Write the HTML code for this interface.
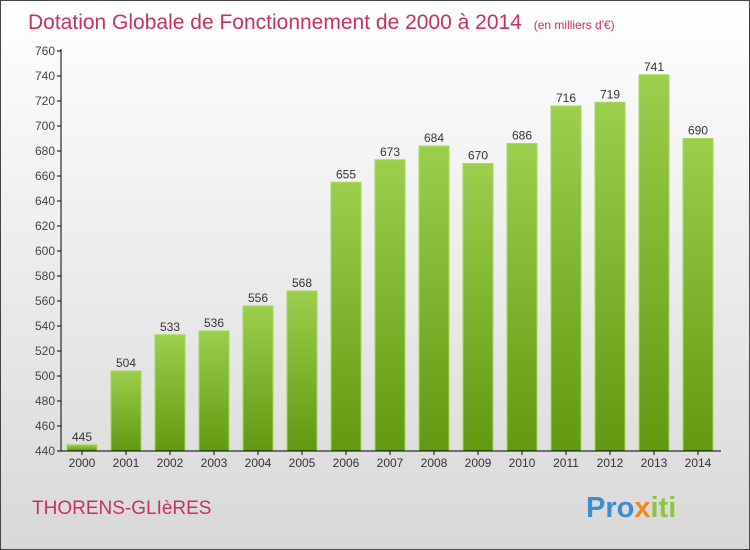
<!DOCTYPE html>
<html><head><meta charset="utf-8"><style>
body{margin:0}
#c{position:relative;width:748px;height:548px;border:1px solid #444;background:linear-gradient(#ffffff,#d8d8d8);font-family:"Liberation Sans",sans-serif;overflow:hidden}
</style></head><body>
<div id="c">
<svg id="s" width="748" height="548" style="position:absolute;left:0;top:0">
<defs><linearGradient id="g" x1="0" y1="0" x2="0" y2="1"><stop offset="0" stop-color="#9ccf4c"/><stop offset="1" stop-color="#62990f"/></linearGradient></defs>
<text x="27" y="28" font-size="21" fill="#c8305e">Dotation Globale de Fonctionnement de 2000 à 2014 <tspan font-size="12" dx="6">(en milliers d'€)</tspan></text>
<text x="31" y="513" font-size="19" fill="#c8305e">THORENS-GLIèRES</text>
<text x="585" y="516" font-size="29" font-weight="bold" fill="#3a8fd0">Pro<tspan fill="#f08a1c">x</tspan><tspan fill="#8cc63f">iti</tspan></text>
<g id="plot"></g>
</svg>
</div>
<script>
const years=["2000","2001","2002","2003","2004","2005","2006","2007","2008","2009","2010","2011","2012","2013","2014"];
const values=[445,504,533,536,556,568,655,673,684,670,686,716,719,741,690];
const yTicks=[440,460,480,500,520,540,560,580,600,620,640,660,680,700,720,740,760];
const NS="http://www.w3.org/2000/svg",p=document.getElementById('plot');
const y=v=>450-(v-440)*400/320, xc=i=>81+44*i;
function mk(t,a,txt){const e=document.createElementNS(NS,t);for(const k in a)e.setAttribute(k,a[k]);if(txt!=null)e.textContent=txt;p.appendChild(e);return e;}
yTicks.forEach(v=>{
 const l=mk('line',{x1:56,x2:60,y1:y(v),y2:y(v),stroke:'#000'});
 
 
 const t=mk('text',{x:54,y:y(v)+4,'text-anchor':'end','font-size':12,fill:'#444'},v);
 
 
});
values.forEach((v,i)=>{
 const r=mk('rect',{x:xc(i)-15,y:y(v),width:30,height:450-y(v),fill:'url(#g)',stroke:'#a6d85a','stroke-width':1});
 
 
 const t=mk('text',{x:xc(i),y:y(v)-4,'text-anchor':'middle','font-size':12,fill:'#333'},v);
 
 
 const tk=mk('line',{x1:xc(i),x2:xc(i),y1:450,y2:454,stroke:'#000'});
 
 
 const xl=mk('text',{x:xc(i),y:466,'text-anchor':'middle','font-size':12,fill:'#333'},years[i]);
 
 
});
const ya=mk('line',{x1:60,x2:60,y1:48,y2:450,stroke:'#000'});


const xa=mk('line',{x1:60,x2:720,y1:450,y2:450,stroke:'#000'});


</script>
</body></html>
